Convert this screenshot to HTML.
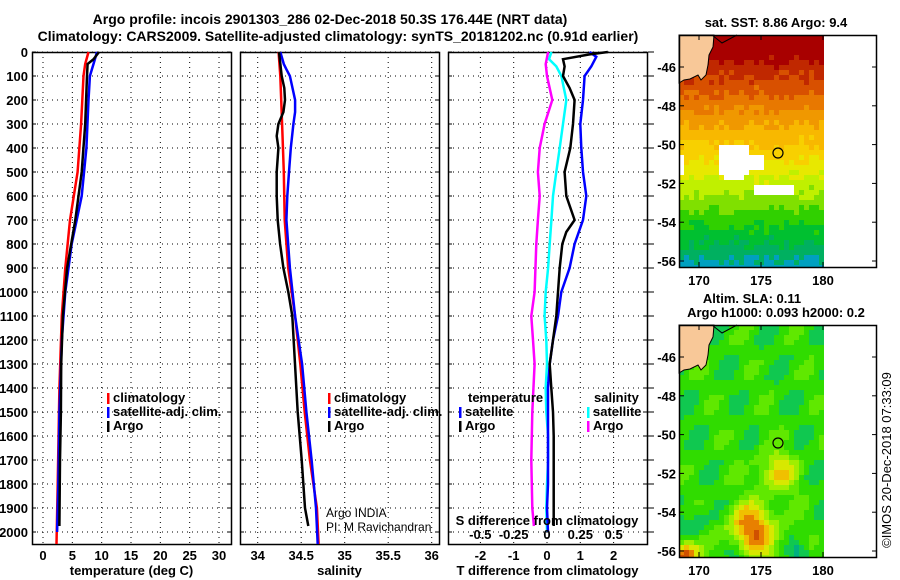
<!DOCTYPE html>
<html><head><meta charset="utf-8">
<style>
html,body{margin:0;padding:0;background:#fff;}
svg{display:block;font-family:"Liberation Sans",sans-serif;}
.t{font-weight:bold;font-size:13px;fill:#000;}
</style></head>
<body>
<svg id="s" width="900" height="580" viewBox="0 0 900 580">
<text x="330" y="24" text-anchor="middle" style="font-weight:bold;font-size:14px">Argo profile: incois 2901303_286 02-Dec-2018 50.3S 176.44E (NRT data)</text>
<text x="338" y="41" text-anchor="middle" style="font-weight:bold;font-size:14px">Climatology: CARS2009. Satellite-adjusted climatology: synTS_20181202.nc (0.91d earlier)</text>
<g id="plots"></g>
<g id="maps"></g>
<text transform="translate(891,460) rotate(-90)" text-anchor="middle" style="font-size:13px">©IMOS 20-Dec-2018 07:33:09</text>
</svg>
<script>
// ---- data (depth in m) ----
const tClimDepth=[0,50,100,300,500,700,900,1100,1400,1800,2050];
const tClimVal=[7.75,7.2,6.9,6.5,5.9,4.6,3.8,3.2,2.8,2.5,2.3];
const tSatDepth=[0,50,100,200,400,600,800,1000,1200,1500,1800,2000];
const tSatVal=[9.2,8.6,8.0,7.75,7.4,6.6,4.9,3.8,3.2,2.8,2.6,2.4];
const tArgoDepth=[0,30,50,100,300,500,700,900,1100,1300,1500,1700,1975];
const tArgoVal=[9.55,8.6,7.6,7.5,7.2,6.6,5.5,4.1,3.4,3.1,3.05,2.9,2.8];

const sClimDepth=[0,100,300,500,700,900,1100,1300,1500,1700,1900,2050];
const sClimVal=[34.24,34.26,34.28,34.30,34.31,34.35,34.43,34.49,34.54,34.60,34.68,34.70];
const sSatDepth=[0,50,72,100,200,250,300,400,500,600,700,900,1100,1300,1500,1700,1900,2050];
const sSatVal=[34.26,34.30,34.33,34.37,34.43,34.43,34.41,34.38,34.36,34.34,34.33,34.37,34.43,34.51,34.56,34.62,34.67,34.69];
const sArgoDepth=[0,100,150,200,250,300,350,400,500,600,700,800,900,1000,1100,1300,1500,1700,1900,1975];
const sArgoVal=[34.245,34.276,34.306,34.314,34.295,34.238,34.218,34.238,34.218,34.218,34.23,34.257,34.295,34.352,34.398,34.429,34.46,34.506,34.544,34.582];

const dTSatDepth=[0,20,60,100,200,300,400,500,600,700,800,900,1000,1100,1200,1300,1400,1600,1800,1900,2000];
const dTSatVal=[1.28,1.48,1.33,1.13,1.08,1.0,1.03,1.08,1.18,1.08,0.83,0.68,0.43,0.33,0.18,0.08,0.03,0.03,0.03,0.0,0.03];
const dTArgoDepth=[0,10,30,60,100,150,200,300,400,500,600,700,750,800,900,1000,1100,1200,1300,1400,1500,1600,1800,1975];
const dTArgoVal=[1.83,1.28,0.48,0.53,0.48,0.68,0.83,0.78,0.70,0.53,0.58,0.83,0.58,0.46,0.38,0.33,0.28,0.18,0.08,0.13,0.18,0.2,0.2,0.2];
const dSSatDepth=[0,30,60,100,200,300,400,500,600,700,800,900,1000,1100,1200,1300,1400,1500,1600,1700,1800,1900,2000];
const dSSatVal=[0.033,0.015,0.07,0.108,0.145,0.12,0.095,0.07,0.045,0.033,0.02,0.008,-0.01,-0.018,-0.005,0,-0.01,-0.005,0.008,0.008,0,-0.005,0];
const dSArgoDepth=[0,50,100,200,300,400,500,600,700,800,1000,1100,1200,1300,1500,1700,1900,1975];
const dSArgoVal=[0.008,-0.01,0,0.04,-0.018,-0.055,-0.068,-0.055,-0.068,-0.08,-0.093,-0.118,-0.105,-0.093,-0.11,-0.118,-0.11,-0.098];

const depthTicks=[0,100,200,300,400,500,600,700,800,900,1000,1100,1200,1300,1400,1500,1600,1700,1800,1900,2000];
const tTicks=[0,5,10,15,20,25,30];
const sTicks=[34,34.5,35,35.5,36];
const sTickLabels=["34","34.5","35","35.5","36"];
const dTTicks=[-2,-1,0,1,2];
const dSTicks=[-0.5,-0.25,0,0.25,0.5];
const dSTickLabels=["-0.5","-0.25","0","0.25","0.5"];
const latTicks=[-46,-48,-50,-52,-54,-56];
const lonTicks=[170,175,180];

// ---- axes ----
const TOP=52,BOT=544;
const yD=d=>TOP+d*0.24;
const xT=v=>43+v*5.867;
const xS=v=>257.7+(v-34)*87;
const xD=v=>547+v*33.3;
const xDS=v=>547+v*133.3;
const NS="http://www.w3.org/2000/svg";
function mk(tag,attrs,parent){const e=document.createElementNS(NS,tag);for(const k in attrs)e.setAttribute(k,attrs[k]);parent.appendChild(e);return e;}
const P=document.getElementById('plots');

function panel(x0,x1,name,xTicks,xf,xLabels,title){
  const g=mk('g',{},P);
  
  
  xTicks.forEach(v=>{const l=mk('line',{x1:xf(v),x2:xf(v),y1:TOP,y2:BOT,stroke:'#000','stroke-width':1,'stroke-dasharray':'1,4'},g);
    });
  depthTicks.forEach(d=>{const l=mk('line',{x1:x0,x2:x1,y1:yD(d),y2:yD(d),stroke:'#000','stroke-width':1,'stroke-dasharray':'1,4'},g);
    
    mk('line',{x1:x0,x2:x0+4,y1:yD(d),y2:yD(d),stroke:'#000'},g);mk('line',{x1:x1-4,x2:x1,y1:yD(d),y2:yD(d),stroke:'#000'},g);});
  const r=mk('rect',{x:x0+0.5,y:TOP+0.5,width:x1-x0,height:BOT-TOP,fill:'none',stroke:'#000','stroke-width':1.5},g);
  
  if(xLabels){xTicks.forEach((v,i)=>{const t=mk('text',{x:xf(v),y:560,'text-anchor':'middle',class:'t'},g);t.textContent=xLabels[i];
    });}
  const tt=mk('text',{x:(x0+x1)/2,y:575,'text-anchor':'middle',class:'t'},g);tt.textContent=title;
  
  return g;
}
function line(g,depths,vals,xf,color,name){
  const pts=depths.map((d,i)=>xf(vals[i]).toFixed(1)+','+yD(d).toFixed(1)).join(' ');
  const l=mk('polyline',{points:pts,fill:'none',stroke:color,'stroke-width':2.5},g);
  
  
}
function legend(g,x,y,color,label){
  mk('rect',{x:x,y:y-9,width:2.5,height:11,fill:color},g);
  const t=mk('text',{x:x+6,y:y,class:'t'},g);t.textContent=label;
  
  
}

// panel 1
const g1=panel(32,231,'temperature-panel',tTicks,xT,tTicks.map(String),'temperature (deg C)');
depthTicks.forEach(d=>{const t=mk('text',{x:28,y:yD(d)+5,'text-anchor':'end',class:'t'},g1);t.textContent=d;
  });
line(g1,tClimDepth,tClimVal,xT,'#f00','temp-climatology-line');
line(g1,tSatDepth,tSatVal,xT,'#00f','temp-satellite-line');
line(g1,tArgoDepth,tArgoVal,xT,'#000','temp-argo-line');
legend(g1,107,402,'#f00','climatology');legend(g1,107,416,'#00f','satellite-adj. clim.');legend(g1,107,430,'#000','Argo');

// panel 2
const g2=panel(240,439,'salinity-panel',sTicks,xS,sTickLabels,'salinity');
line(g2,sClimDepth,sClimVal,xS,'#f00','sal-climatology-line');
line(g2,sSatDepth,sSatVal,xS,'#00f','sal-satellite-line');
line(g2,sArgoDepth,sArgoVal,xS,'#000','sal-argo-line');
legend(g2,328,402,'#f00','climatology');legend(g2,328,416,'#00f','satellite-adj. clim.');legend(g2,328,430,'#000','Argo');
const c1=mk('text',{x:326,y:517,style:'font-size:12px'},g2);c1.textContent='Argo INDIA';

const c2=mk('text',{x:326,y:531,style:'font-size:12px'},g2);c2.textContent='PI: M Ravichandran';


// panel 3
const g3=panel(448,647,'difference-panel',dTTicks,xD,dTTicks.map(String),'T difference from climatology');
depthTicks.forEach(d=>{mk('line',{x1:648,x2:654,y1:yD(d),y2:yD(d),stroke:'#000'},g3);});
line(g3,dSSatDepth,dSSatVal,xDS,'#0ff','s-diff-satellite-line');
line(g3,dSArgoDepth,dSArgoVal,xDS,'#f0f','s-diff-argo-line');
line(g3,dTSatDepth,dTSatVal,xD,'#00f','t-diff-satellite-line');
line(g3,dTArgoDepth,dTArgoVal,xD,'#000','t-diff-argo-line');
const lt=mk('text',{x:468,y:402,class:'t'},g3);lt.textContent='temperature';

const ls=mk('text',{x:594,y:402,class:'t'},g3);ls.textContent='salinity';

legend(g3,459,416,'#00f','satellite');legend(g3,459,430,'#000','Argo');
legend(g3,587,416,'#0ff','satellite');legend(g3,587,430,'#f0f','Argo');
const sdt=mk('text',{x:547,y:525,'text-anchor':'middle',class:'t'},g3);sdt.textContent='S difference from climatology';

dSTicks.forEach((v,i)=>{const t=mk('text',{x:xDS(v),y:539,'text-anchor':'middle',class:'t'},g3);t.textContent=dSTickLabels[i];
  });

// ---- maps ----
const M=document.getElementById('maps');
const lonX=v=>699+(v-170)*12.4;
function hash(i,j,k){let h=(i*73856093)^(j*19349663)^(k*83492791);h=(h^(h>>13))*1274126177;return ((h^(h>>16))>>>0)/4294967296;}
function sstColor(x,y,i,j){
  const r=hash(i,j,1);let t=(y-35)/232+ (r-0.5)*0.12;
  if(x>718&&x<745&&y>140&&y<172&&r<0.75)return null;
  if(x>748&&x<760&&y>150&&y<170&&r<0.5)return null;
  if(x>750&&x<790&&y>182&&y<192&&r<0.6)return null;
  if(x<684&&y>153&&y<173)return null;
  if(x>720&&x<740&&y>173&&y<178&&r<0.5)return null;
  const cols=['#a80000','#c02800','#d85000','#e87800','#f09800','#f8b800','#f8d000','#e8e800','#c0f000','#80e000','#30d000','#00c030','#00b060','#00a0c0'];
  if(t>0.92&&r>0.7)return '#0020a0';
  if(t>0.85&&r>0.8)return '#00c8d0';
  let k=Math.max(0,Math.min(cols.length-1,Math.floor(t*cols.length)));
  return cols[k];
}
function slaColor(x,y,i,j){
  const r=hash(i,j,2);
  const blob=(cx,cy,s)=>Math.exp(-((x-cx)**2+(y-cy)**2)/(s*s));
  let v=0.5+0.22*Math.sin(x*0.12+y*0.05)*Math.sin(y*0.09)+(r-0.5)*0.08;
  v+=0.9*blob(748,523,22)+0.7*blob(775,470,20)+1.3*blob(682,553,14)+0.4*blob(760,545,30);
  v-=0.5*blob(795,550,12)+0.4*blob(735,555,10)+0.25*blob(690,520,15);
  const cols=['#00b080','#10c850','#30dc00','#60e800','#a0ee00','#d8e800','#f0c000','#e88000','#d05000','#a01000'];
  let k=Math.max(0,Math.min(cols.length-1,Math.floor(v*5)));
  return cols[k];
}
function map(y0,name,colorFn,t1){
  const g=mk('g',{},M);
  
  
  const cs=5;
  for(let x=679,i=0;x<824;x+=cs,i++)for(let y=y0,j=0;y<y0+232;y+=cs,j++){
    const c=colorFn(x,y,i,j);if(!c)continue;
    mk('rect',{x:x,y:y,width:Math.min(cs,824-x),height:Math.min(cs,y0+232-y),fill:c},g);
  }
  const land=mk('path',{d:`M679,${y0} L714,${y0} L713,${y0+12} L709,${y0+20} L708,${y0+30} L706,${y0+40} L701,${y0+45} L698,${y0+40} L690,${y0+44} L684,${y0+45} L679,${y0+48} Z`,fill:'#f8c898',stroke:'#000','stroke-width':1},g);
  
  mk('path',{d:`M712,${y0} L722,${y0+8} L737,${y0}`,fill:'none',stroke:'#000','stroke-width':1},g);
  const fr=mk('rect',{x:679.5,y:y0+0.5,width:197,height:232,fill:'none',stroke:'#000','stroke-width':1.5},g);
  
  const cir=mk('circle',{cx:778,cy:y0+118,r:5,fill:'none',stroke:'#000','stroke-width':1.2},g);
  
  latTicks.forEach(v=>{const y=y0+32+(-46-v)*19.4;
    mk('line',{x1:679,x2:684,y1:y,y2:y,stroke:'#000'},g);mk('line',{x1:872,x2:877,y1:y,y2:y,stroke:'#000'},g);
    const t=mk('text',{x:676,y:y+5,'text-anchor':'end',class:'t'},g);t.textContent=v;
    });
  lonTicks.forEach(v=>{mk('line',{x1:lonX(v),x2:lonX(v),y1:y0,y2:y0+5,stroke:'#000'},g);mk('line',{x1:lonX(v),x2:lonX(v),y1:y0+227,y2:y0+232,stroke:'#000'},g);
    const t=mk('text',{x:lonX(v),y:y0+250,'text-anchor':'middle',class:'t'},g);t.textContent=v;
    });
  t1.forEach(s=>{const t=mk('text',{x:s[1],y:s[2],'text-anchor':'middle',class:'t'},g);t.textContent=s[0];
    });
}
map(35,'sst-map',sstColor,[['sat. SST: 8.86 Argo: 9.4',776,27]]);
map(325,'sla-map',slaColor,[['Altim. SLA: 0.11',752,303],['Argo h1000: 0.093 h2000: 0.2',776,317]]);
</script>
</body></html>
